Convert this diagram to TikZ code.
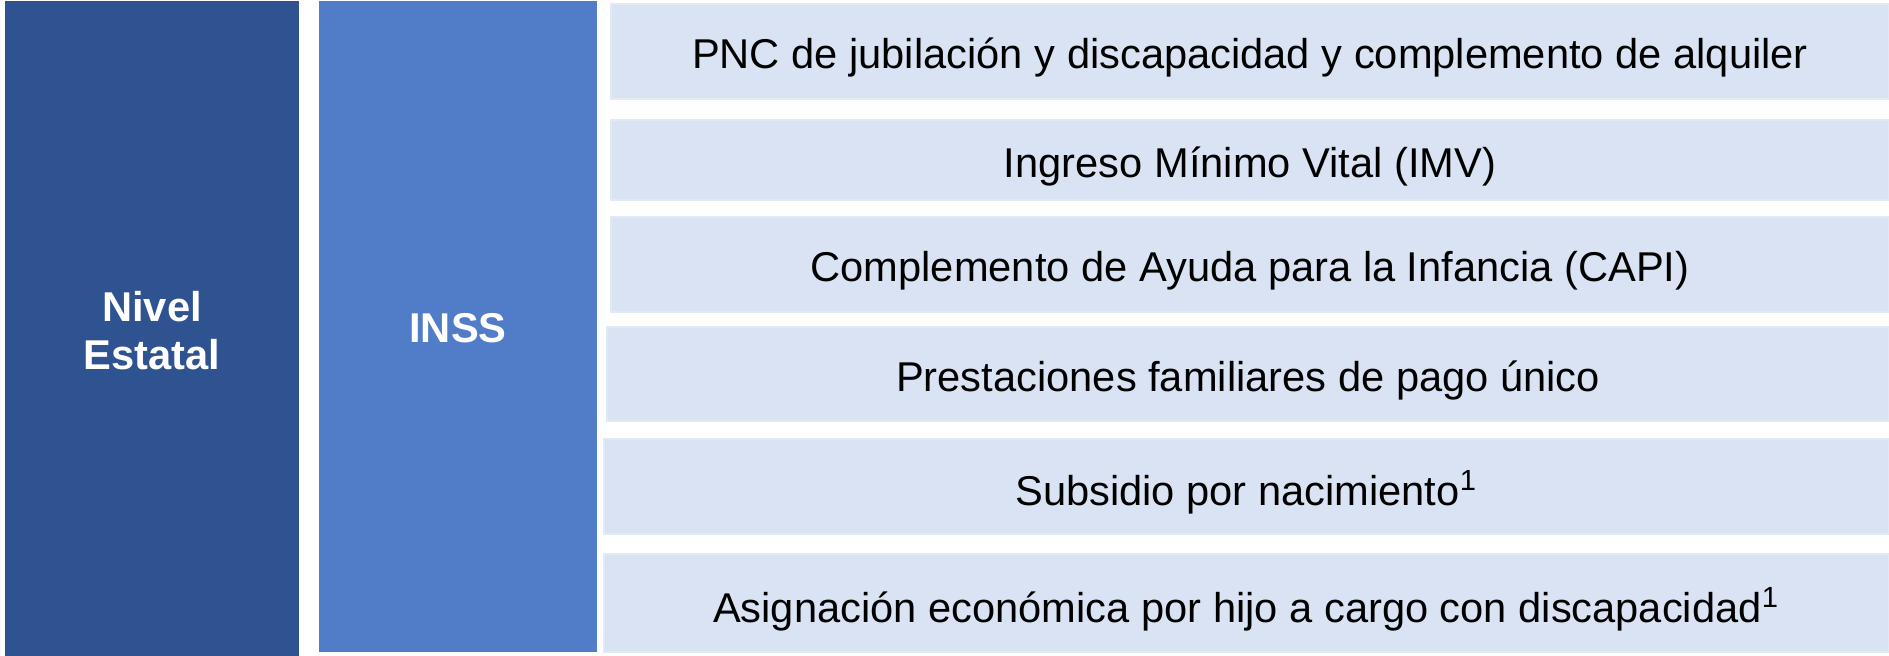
\documentclass[tikz,border=0pt]{standalone}
\usepackage{fontspec}
\setmainfont{Liberation Sans}
\usepackage{tikz}

\definecolor{estatal}{RGB}{47,82,144}
\definecolor{inss}{RGB}{80,124,200}
\definecolor{prest}{RGB}{218,227,243}

\begin{document}
\begin{tikzpicture}[
  nivel/.style={draw=estatal,fill=estatal},
  organ/.style={draw=inss,fill=inss},
  ayuda/.style={draw=prest!80!white,fill=prest},
  rotulo/.style={text=white,align=center,yshift=-0.02cm,font=\fontsize{11.85}{13.6}\selectfont\bfseries},
  texto/.style={text=black,yshift=-0.06cm,font=\fontsize{11.85}{13.6}\selectfont}
]
\useasboundingbox (0,0) rectangle (18.89,6.55);

\draw[nivel] (0.06,0) rectangle node[rotulo] (estado) {Nivel\\Estatal} (2.98,6.53);
\draw[organ] (3.20,0.04) rectangle node[rotulo] (inss) {INSS} (5.96,6.53);

\draw[ayuda] (6.11,5.56) rectangle node[texto] (pnc) {PNC de jubilación y discapacidad y complemento de alquiler} (18.89,6.51);
\draw[ayuda] (6.11,4.55) rectangle node[texto] (imv) {Ingreso Mínimo Vital (IMV)} (18.89,5.35);
\draw[ayuda] (6.11,3.43) rectangle node[texto] (capi) {Complemento de Ayuda para la Infancia (CAPI)} (18.89,4.38);
\draw[ayuda] (6.07,2.34) rectangle node[texto] (unico) {Prestaciones familiares de pago único} (18.89,3.28);
\draw[ayuda] (6.04,1.21) rectangle node[texto] (nacim) {Subsidio por nacimiento\textsuperscript{1}} (18.89,2.16);
\draw[ayuda] (6.04,0.03) rectangle node[texto] (hijo) {Asignación económica por hijo a cargo con discapacidad\textsuperscript{1}} (18.89,1.01);

\end{tikzpicture}
\end{document}
